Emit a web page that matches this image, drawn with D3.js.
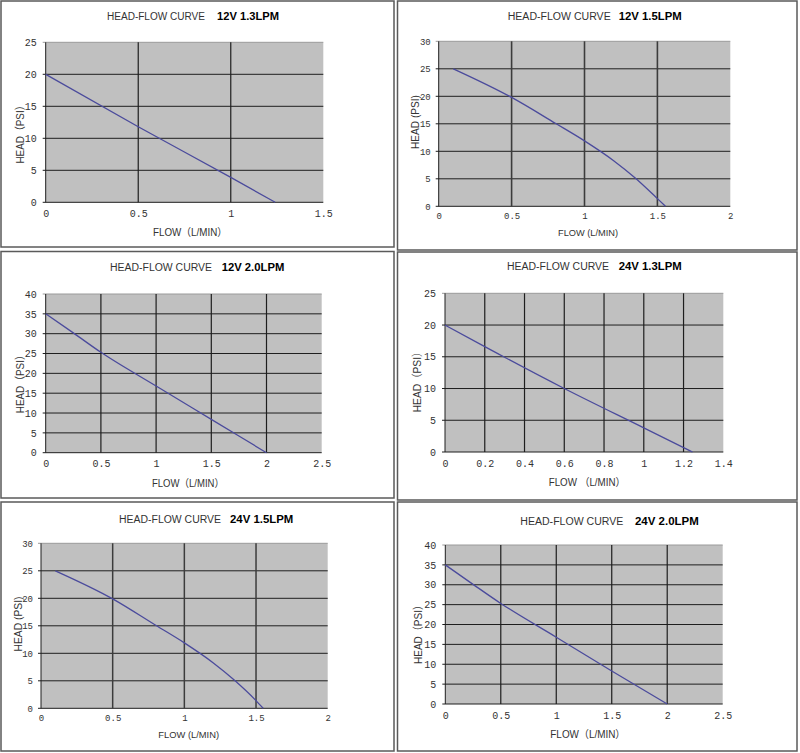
<!DOCTYPE html>
<html lang="en">
<head>
<meta charset="UTF-8">
<title>Head-Flow Curves</title>
<script src="https://d3js.org/d3.v7.min.js"></script>
<style>
  body { margin: 0; background: #fff; }
  svg { display: block; }
  .tick text { font-family: "Liberation Mono", "DejaVu Sans Mono", monospace; fill: #333; }
  .title { font-family: "Liberation Sans", Arial, sans-serif; fill: #333; }
  .model { font-family: "Liberation Sans", Arial, sans-serif; font-weight: bold; fill: #000; }
  .axis-label { font-family: "Liberation Sans", Arial, "Noto Sans CJK SC", sans-serif; fill: #333; }
</style>
</head>
<body>
<svg id="chart" width="800" height="753"></svg>
<script>
// readings (flow in L/min, head in psi)
const flow12v13 = [0, 0.5, 1, 1.24];
const head12v13 = [20, 11.8, 3.9, 0];

const flow12v15 = [0.1, 0.5, 0.8, 1.0, 1.2, 1.35, 1.5, 1.555];
const head12v15 = [25, 19.8, 15.1, 11.9, 8.3, 5.1, 1.4, 0];

const flow12v20 = [0, 0.25, 0.5, 1, 1.5, 2];
const head12v20 = [35, 30.2, 25.3, 16.8, 8.4, 0];

const flow24v13 = [0, 0.2, 0.6, 1, 1.245];
const head24v13 = [20, 16.6, 10, 3.8, 0];

const flow24v15 = [0.1, 0.5, 0.8, 1.0, 1.2, 1.35, 1.5, 1.55];
const head24v15 = [25, 19.9, 15.1, 11.9, 8.3, 5.1, 1.4, 0];

const flow24v20 = [0, 0.25, 0.5, 1, 1.5, 2];
const head24v20 = [35, 30.1, 25.3, 16.8, 8.3, 0];

const models = ["12V 1.3LPM", "12V 1.5LPM", "12V 2.0LPM", "24V 1.3LPM", "24V 1.5LPM", "24V 2.0LPM"];

const xTicks13 = [0, 0.5, 1, 1.5];
const xTicks15 = [0, 0.5, 1, 1.5, 2];
const xTicks20 = [0, 0.5, 1, 1.5, 2, 2.5];
const xTicks24v13 = [0, 0.2, 0.4, 0.6, 0.8, 1, 1.2, 1.4];
const yTicks25 = [0, 5, 10, 15, 20, 25];
const yTicks30 = [0, 5, 10, 15, 20, 25, 30];
const yTicks40 = [0, 5, 10, 15, 20, 25, 30, 35, 40];

const xLabels = ["FLOW（L/MIN）", "FLOW (L/MIN)", "FLOW（L/MIN）", "FLOW （L/MIN）", "FLOW (L/MIN)", "FLOW（L/MIN）"];
const yLabels = ["HEAD（PSI）", "HEAD (PSI)", "HEAD（PSI）", "HEAD（PSI）", "HEAD (PSI)", "HEAD（PSI）"];

const series = [
  { flow: flow12v13, head: head12v13, xTicks: xTicks13, yTicks: yTicks25 },
  { flow: flow12v15, head: head12v15, xTicks: xTicks15, yTicks: yTicks30 },
  { flow: flow12v20, head: head12v20, xTicks: xTicks20, yTicks: yTicks40 },
  { flow: flow24v13, head: head24v13, xTicks: xTicks24v13, yTicks: yTicks25 },
  { flow: flow24v15, head: head24v15, xTicks: xTicks15, yTicks: yTicks30 },
  { flow: flow24v20, head: head24v20, xTicks: xTicks20, yTicks: yTicks40 }
];

// where each panel sits on the page
const layout = [
  { box: [1, 1, 394, 247], plot: [45.7, 42.3, 323.3, 202.3], tx: 107, bx: 217, ty: 20, tw: 98, bw: 62,
    lx: 190, ly: 235.7, lw: 74, yx: 24.3, yy: 132, yw: 63, fs: 10.5, yfs: 11, tfs: 10, tickY: 16, vw: 1.2 },
  { box: [397.5, 1, 797, 250], plot: [438.7, 41.3, 730.3, 206.3], tx: 507.7, bx: 618.7, ty: 20, tw: 103, bw: 63,
    lx: 588, ly: 235.7, lw: 60, yx: 418.7, yy: 122, yw: 54, fs: 9.5, yfs: 10.5, tfs: 9, tickY: 14.4, vw: 1.6 },
  { box: [1, 251.5, 394, 498], plot: [45.7, 294, 321.7, 452.7], tx: 110, bx: 221.7, ty: 270.7, tw: 102, bw: 62.6,
    lx: 188, ly: 486.7, lw: 72, yx: 24.3, yy: 381.7, yw: 63, fs: 10.5, yfs: 11, tfs: 10, tickY: 16.3, vw: 1.2 },
  { box: [397.5, 252, 797, 500], plot: [445, 293.3, 723.3, 452], tx: 507, bx: 618.7, ty: 270, tw: 102, bw: 63,
    lx: 587, ly: 486, lw: 76.6, yx: 421.3, yy: 379.5, yw: 65.6, fs: 10.5, yfs: 11, tfs: 10, tickY: 16.3, vw: 1.2 },
  { box: [1, 502, 394, 751], plot: [41, 543.3, 327.7, 708.3], tx: 119, bx: 230, ty: 522.7, tw: 102, bw: 63.3,
    lx: 188.7, ly: 737.7, lw: 60.7, yx: 22.3, yy: 624, yw: 55, fs: 9.5, yfs: 10.5, tfs: 9, tickY: 14.4, vw: 1.5 },
  { box: [397.5, 502, 797, 751], plot: [445.3, 545, 722.7, 704], tx: 520.3, bx: 635, ty: 525, tw: 103, bw: 63.7,
    lx: 587.8, ly: 737.7, lw: 75, yx: 422, yy: 632, yw: 64, fs: 10.5, yfs: 11, tfs: 10, tickY: 16, vw: 1.2 }
];

const svg = d3.select("#chart");
const fmt = d => String(+d.toFixed(1));

series.forEach((s, i) => {
  const L = layout[i];
  const [x0, y0, x1, y1] = L.plot;
  const g = svg.append("g");

  g.append("rect")
    .attr("x", L.box[0]).attr("y", L.box[1])
    .attr("width", L.box[2] - L.box[0]).attr("height", L.box[3] - L.box[1])
    .attr("fill", "#fff").attr("stroke", "#5a5a5a").attr("stroke-width", 1.5);

  const x = d3.scaleLinear().domain([0, d3.max(s.xTicks)]).range([x0, x1]);
  const y = d3.scaleLinear().domain([0, d3.max(s.yTicks)]).range([y1, y0]);

  g.append("rect")
    .attr("x", x0).attr("y", y0).attr("width", x1 - x0).attr("height", y1 - y0)
    .attr("fill", "#c0c0c0");

  // grid
  g.selectAll("line.hgrid")
    .data(s.yTicks)
    .join("line")
    .attr("class", "hgrid")
    .attr("x1", x0 - 3).attr("x2", x1)
    .attr("y1", d => y(d)).attr("y2", d => y(d))
    .attr("stroke", d => d === d3.max(s.yTicks) ? "#9a9a9a" : "#1e1e1e")
    .attr("stroke-width", 1);

  g.selectAll("line.vgrid")
    .data(s.xTicks.filter(d => d < d3.max(s.xTicks)))
    .join("line")
    .attr("class", "vgrid")
    .attr("x1", d => x(d)).attr("x2", d => x(d))
    .attr("y1", y0).attr("y2", y1)
    .attr("stroke", d => d === 0 ? "#1e1e1e" : (L.vw > 1.4 ? "#3c3c3c" : "#1e1e1e"))
    .attr("stroke-width", d => d === 0 ? 1 : L.vw);

  // tick labels
  const yAxis = g.append("g")
    .attr("transform", `translate(${x0},0)`)
    .call(d3.axisLeft(y).tickValues(s.yTicks).tickFormat(fmt).tickSize(0).tickPadding(L.tfs - 1));
  yAxis.select(".domain").remove();
  yAxis.selectAll("text").style("font-size", L.tfs + "px");

  const xAxis = g.append("g")
    .attr("transform", `translate(0,${y1})`)
    .call(d3.axisBottom(x).tickValues(s.xTicks).tickFormat(fmt).tickSize(0).tickPadding(L.tickY - L.tfs / 2));
  xAxis.select(".domain").remove();
  xAxis.selectAll("text").style("font-size", L.tfs + "px").attr("dy", "0.35em");

  // curve
  const line = d3.line()
    .x(d => x(d[0]))
    .y(d => y(d[1]))
    .curve(d3.curveMonotoneX);

  g.append("path")
    .datum(d3.zip(s.flow, s.head))
    .attr("d", line)
    .attr("fill", "none")
    .attr("stroke", "#4b4b9c")
    .attr("stroke-width", 1.3);

  // titles
  g.append("text")
    .attr("class", "title")
    .attr("x", L.tx).attr("y", L.ty)
    .attr("textLength", L.tw).attr("lengthAdjust", "spacingAndGlyphs")
    .style("font-size", "10px")
    .text("HEAD-FLOW CURVE");

  g.append("text")
    .attr("class", "model")
    .attr("x", L.bx).attr("y", L.ty)
    .attr("textLength", L.bw).attr("lengthAdjust", "spacingAndGlyphs")
    .style("font-size", "11px")
    .text(models[i]);

  g.append("text")
    .attr("class", "axis-label")
    .attr("x", L.lx - L.lw / 2).attr("y", L.ly)
    .attr("textLength", L.lw).attr("lengthAdjust", "spacingAndGlyphs")
    .style("font-size", L.fs + "px")
    .text(xLabels[i]);

  g.append("text")
    .attr("class", "axis-label")
    .attr("transform", `translate(${L.yx},${L.yy + L.yw / 2}) rotate(-90)`)
    .attr("textLength", L.yw).attr("lengthAdjust", "spacingAndGlyphs")
    .style("font-size", L.yfs + "px")
    .text(yLabels[i]);
});
</script>
</body>
</html>
